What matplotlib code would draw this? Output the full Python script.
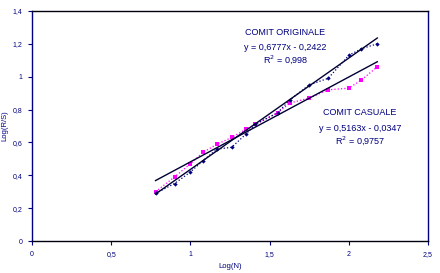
import matplotlib
matplotlib.use('Agg')
import matplotlib.pyplot as plt
import numpy as np

plt.rcParams['font.family'] = ['Liberation Sans', 'DejaVu Sans']

# Log(N) values shared by both series
log_n = [0.78, 0.90, 1.00, 1.08, 1.17, 1.26, 1.35, 1.41, 1.55, 1.63, 1.75, 1.87, 2.00, 2.08, 2.18]
# COMIT ORIGINALE, Log(R/S)
orig = [0.29, 0.35, 0.42, 0.49, 0.56, 0.57, 0.65, 0.71, 0.78, 0.86, 0.95, 0.99, 1.13, 1.17, 1.20]
# COMIT CASUALE, Log(R/S)
casu = [0.30, 0.39, 0.47, 0.54, 0.59, 0.63, 0.68, 0.71, 0.78, 0.84, 0.87, 0.92, 0.93, 0.98, 1.06]

fit_orig = (0.6777, -0.2422)
fit_casu = (0.5163, -0.0347)

x_ticks = [0, 0.5, 1, 1.5, 2, 2.5]
x_labels = ['0', '0,5', '1', '1,5', '2', '2,5']
y_ticks = [0, 0.2, 0.4, 0.6, 0.8, 1, 1.2, 1.4]
y_labels = ['0', '0,2', '0,4', '0,6', '0,8', '1', '1,2', '1,4']

navy = '#000080'
mag = '#ff00ff'

fig = plt.figure(figsize=(4.4, 2.73), dpi=100)
ax = fig.add_axes([0.0727, 0.117, 0.9, 0.843])

ax.plot(log_n, casu, color=mag, linestyle=':', linewidth=0.9,
        marker='s', markersize=3, markeredgewidth=0)
ax.plot(log_n, orig, color=navy, linestyle=':', linewidth=0.9,
        marker='D', markersize=2.2, markeredgewidth=0)

xx = np.array([log_n[0], log_n[-1]])
ax.plot(xx, fit_orig[0] * xx + fit_orig[1], color='#000033', linewidth=1)
ax.plot(xx, fit_casu[0] * xx + fit_casu[1], color='#000033', linewidth=1)

ax.set_xlim(0, 2.5)
ax.set_ylim(0, 1.4)
ax.set_xticks(x_ticks)
ax.set_xticklabels(x_labels, fontsize=5, color=navy)
ax.set_yticks(y_ticks)
ax.set_yticklabels(y_labels, fontsize=5, color=navy)
ax.tick_params(length=3, width=0.8, color=navy, pad=4)

for s in ['left', 'right']:
    ax.spines[s].set_color(navy)
for s in ['top', 'bottom']:
    ax.spines[s].set_color('#000010')
for s in ax.spines.values():
    s.set_linewidth(1)

ax.set_xlabel('Log(N)', fontsize=5.5, color=navy, labelpad=4)
ax.set_ylabel('Log(R/S)', fontsize=5.5, color=navy, labelpad=3)

ax.text(1.6, 1.27, 'COMIT ORIGINALE', fontsize=6.5, color=navy, ha='center', va='center')
ax.text(1.6, 1.18, 'y = 0,6777x - 0,2422', fontsize=6.5, color=navy, ha='center', va='center')
ax.text(1.6, 1.105, 'R$^2$ = 0,998', fontsize=6.5, color=navy, ha='center', va='center')

ax.text(2.07, 0.785, 'COMIT CASUALE', fontsize=6.5, color=navy, ha='center', va='center')
ax.text(2.07, 0.685, 'y = 0,5163x - 0,0347', fontsize=6.5, color=navy, ha='center', va='center')
ax.text(2.07, 0.61, 'R$^2$ = 0,9757', fontsize=6.5, color=navy, ha='center', va='center')

fig.savefig('out.png', dpi=100)
